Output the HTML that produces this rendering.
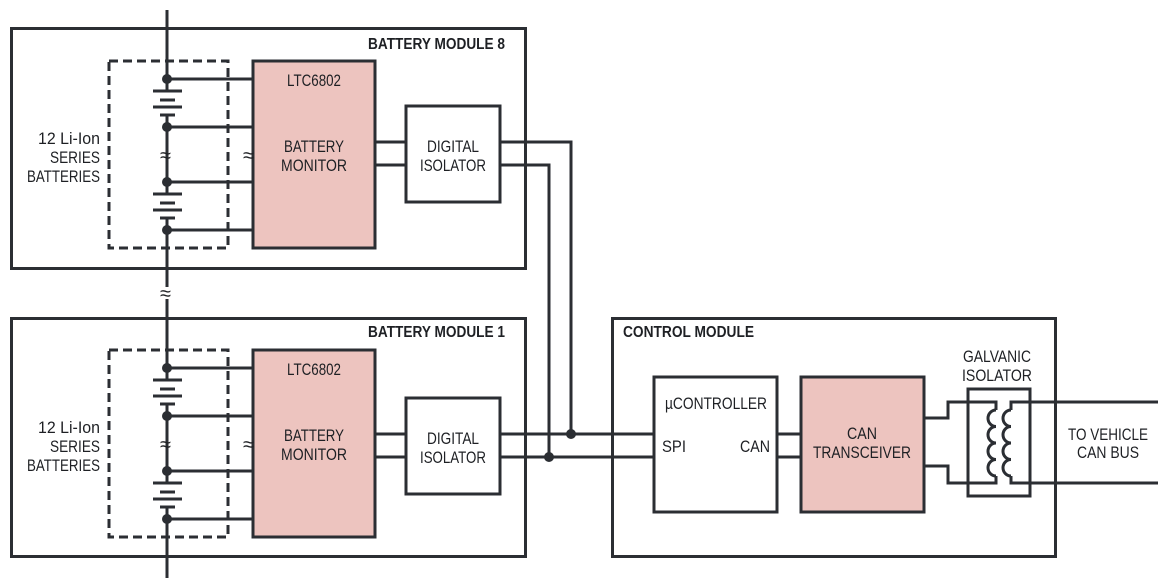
<!DOCTYPE html>
<html><head><meta charset="utf-8"><style>
html,body{margin:0;padding:0;background:#fff}
svg{display:block}
text{font-family:"Liberation Sans Narrow","Liberation Sans",sans-serif;fill:#1e2024}
.t{font-size:17px}
.s{font-size:20px}
.b{font-size:16px;font-weight:bold}
</style></head><body>
<svg width="1165" height="582" viewBox="0 0 1165 582" xmlns="http://www.w3.org/2000/svg">
<defs>
<g id="mod">
  <rect x="109" y="0" width="119" height="187" fill="none" stroke="#2b2e33" stroke-width="3" stroke-dasharray="9,5"/>
  <rect x="253" y="0" width="122" height="187" fill="#edc4bf" stroke="#2b2e33" stroke-width="3"/>
  <g stroke="#2b2e33" stroke-width="3" fill="none">
    <line x1="167" y1="18" x2="253" y2="18"/>
    <line x1="167" y1="66" x2="253" y2="66"/>
    <line x1="167" y1="121" x2="253" y2="121"/>
    <line x1="167" y1="169" x2="253" y2="169"/>
    <line x1="153" y1="30" x2="182" y2="30"/>
    <line x1="160" y1="39" x2="175" y2="39"/>
    <line x1="153" y1="46" x2="182" y2="46"/>
    <line x1="160" y1="54" x2="175" y2="54"/>
    <line x1="153" y1="133" x2="182" y2="133"/>
    <line x1="160" y1="142" x2="175" y2="142"/>
    <line x1="153" y1="149" x2="182" y2="149"/>
    <line x1="160" y1="157" x2="175" y2="157"/>
  </g>
  <g fill="#2b2e33">
    <circle cx="167" cy="18" r="5"/><circle cx="167" cy="66" r="5"/>
    <circle cx="167" cy="121" r="5"/><circle cx="167" cy="169" r="5"/>
  </g>
  <text x="160" y="101" class="s">≈</text>
  <text x="243" y="101" class="s">≈</text>
</g>
<g id="iso">
  <g stroke="#2b2e33" stroke-width="3">
    <line x1="375" y1="36" x2="406" y2="36"/>
    <line x1="375" y1="59" x2="406" y2="59"/>
  </g>
  <rect x="406" y="0" width="94" height="96" fill="#fff" stroke="#2b2e33" stroke-width="3"/>
</g>
</defs>

<rect x="11.5" y="28.5" width="514" height="240" fill="none" stroke="#2b2e33" stroke-width="3"/>
<rect x="11.5" y="318.5" width="514" height="238" fill="none" stroke="#2b2e33" stroke-width="3"/>

<g stroke="#2b2e33" stroke-width="3">
  <line x1="167" y1="10" x2="167" y2="91"/>
  <line x1="167" y1="115" x2="167" y2="194"/>
  <line x1="167" y1="218" x2="167" y2="380"/>
  <line x1="167" y1="404" x2="167" y2="483"/>
  <line x1="167" y1="507" x2="167" y2="578"/>
</g>
<rect x="160" y="287" width="14" height="12" fill="#fff"/>
<text x="160" y="300" class="s">≈</text>

<use href="#mod" transform="translate(0,61)"/>
<use href="#mod" transform="translate(0,350)"/>
<use href="#iso" transform="translate(0,106)"/>
<use href="#iso" transform="translate(0,398)"/>

<text x="368" y="49" class="b" textLength="137" lengthAdjust="spacingAndGlyphs">BATTERY MODULE 8</text>
<text x="314" y="86" class="t" text-anchor="middle" textLength="54" lengthAdjust="spacingAndGlyphs">LTC6802</text>
<text x="314" y="152" class="t" text-anchor="middle" textLength="60" lengthAdjust="spacingAndGlyphs">BATTERY</text>
<text x="314" y="171" class="t" text-anchor="middle" textLength="66" lengthAdjust="spacingAndGlyphs">MONITOR</text>
<text x="453" y="152" class="t" text-anchor="middle" textLength="52" lengthAdjust="spacingAndGlyphs">DIGITAL</text>
<text x="453" y="171" class="t" text-anchor="middle" textLength="66" lengthAdjust="spacingAndGlyphs">ISOLATOR</text>
<text x="100" y="144" class="t" text-anchor="end" textLength="62" lengthAdjust="spacingAndGlyphs">12 Li-Ion</text>
<text x="100" y="163" class="t" text-anchor="end" textLength="50" lengthAdjust="spacingAndGlyphs">SERIES</text>
<text x="100" y="182" class="t" text-anchor="end" textLength="73" lengthAdjust="spacingAndGlyphs">BATTERIES</text>

<text x="368" y="337" class="b" textLength="137" lengthAdjust="spacingAndGlyphs">BATTERY MODULE 1</text>
<text x="314" y="375" class="t" text-anchor="middle" textLength="54" lengthAdjust="spacingAndGlyphs">LTC6802</text>
<text x="314" y="441" class="t" text-anchor="middle" textLength="60" lengthAdjust="spacingAndGlyphs">BATTERY</text>
<text x="314" y="460" class="t" text-anchor="middle" textLength="66" lengthAdjust="spacingAndGlyphs">MONITOR</text>
<text x="453" y="444" class="t" text-anchor="middle" textLength="52" lengthAdjust="spacingAndGlyphs">DIGITAL</text>
<text x="453" y="463" class="t" text-anchor="middle" textLength="66" lengthAdjust="spacingAndGlyphs">ISOLATOR</text>
<text x="100" y="433" class="t" text-anchor="end" textLength="62" lengthAdjust="spacingAndGlyphs">12 Li-Ion</text>
<text x="100" y="452" class="t" text-anchor="end" textLength="50" lengthAdjust="spacingAndGlyphs">SERIES</text>
<text x="100" y="471" class="t" text-anchor="end" textLength="73" lengthAdjust="spacingAndGlyphs">BATTERIES</text>

<rect x="612.5" y="318.5" width="443" height="238" fill="none" stroke="#2b2e33" stroke-width="3"/>
<text x="623" y="337" class="b" textLength="131" lengthAdjust="spacingAndGlyphs">CONTROL MODULE</text>

<g stroke="#2b2e33" stroke-width="3" fill="none">
  <polyline points="500,142 571,142 571,434"/>
  <polyline points="500,165 549,165 549,457"/>
  <line x1="500" y1="434" x2="654" y2="434"/>
  <line x1="500" y1="457" x2="654" y2="457"/>
  <line x1="777" y1="434" x2="801" y2="434"/>
  <line x1="777" y1="457" x2="801" y2="457"/>
  <polyline points="924,418 948,418 948,402 996,402 996,410"/>
  <polyline points="996,476 996,483 948,483 948,466 924,466"/>
  <path d="M996,410 a8,8.25 0 0 0 0,16.5 a8,8.25 0 0 0 0,16.5 a8,8.25 0 0 0 0,16.5 a8,8.25 0 0 0 0,16.5"/>
  <polyline points="1158,402 1011,402 1011,410"/>
  <polyline points="1011,476 1011,483 1158,483"/>
  <path d="M1011,410 a8,8.25 0 0 0 0,16.5 a8,8.25 0 0 0 0,16.5 a8,8.25 0 0 0 0,16.5 a8,8.25 0 0 0 0,16.5"/>
  <rect x="968" y="389" width="62" height="107"/>
</g>
<g fill="#2b2e33"><circle cx="571" cy="434" r="5"/><circle cx="549" cy="457" r="5"/></g>

<rect x="654" y="377" width="123" height="135" fill="#fff" stroke="#2b2e33" stroke-width="3"/>
<rect x="801" y="377" width="123" height="135" fill="#edc4bf" stroke="#2b2e33" stroke-width="3"/>
<text x="716" y="409" class="t" text-anchor="middle" textLength="102" lengthAdjust="spacingAndGlyphs">µCONTROLLER</text>
<text x="662" y="452" class="t" textLength="24" lengthAdjust="spacingAndGlyphs">SPI</text>
<text x="770" y="452" class="t" text-anchor="end" textLength="30" lengthAdjust="spacingAndGlyphs">CAN</text>
<text x="862" y="439" class="t" text-anchor="middle" textLength="30" lengthAdjust="spacingAndGlyphs">CAN</text>
<text x="862" y="458" class="t" text-anchor="middle" textLength="98" lengthAdjust="spacingAndGlyphs">TRANSCEIVER</text>
<text x="997" y="362" class="t" text-anchor="middle" textLength="68" lengthAdjust="spacingAndGlyphs">GALVANIC</text>
<text x="997" y="381" class="t" text-anchor="middle" textLength="70" lengthAdjust="spacingAndGlyphs">ISOLATOR</text>
<text x="1108" y="440" class="t" text-anchor="middle" textLength="80" lengthAdjust="spacingAndGlyphs">TO VEHICLE</text>
<text x="1108" y="458" class="t" text-anchor="middle" textLength="62" lengthAdjust="spacingAndGlyphs">CAN BUS</text>
</svg>
</body></html>
